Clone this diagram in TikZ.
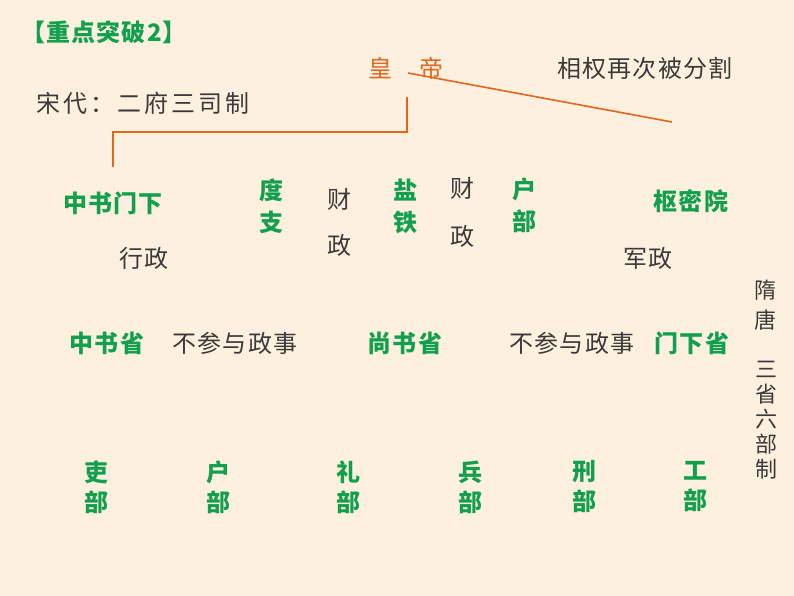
\documentclass[tikz,border=0pt]{standalone}
\usepackage{fontspec}
\setmainfont{Noto Sans CJK SC}[LetterSpace=5]
\newfontfamily\widecjk{Noto Sans CJK SC}[LetterSpace=13]
\usetikzlibrary{positioning}
\definecolor{paper}{HTML}{FDF0DF}
\definecolor{kgreen}{HTML}{12A04E}
\definecolor{korange}{HTML}{E2661C}
\definecolor{kgray}{HTML}{3A3A3A}

\begin{document}
\begin{tikzpicture}[x=1pt, y=-1pt,
  office/.style={text=kgreen, font=\fontsize{24}{32}\selectfont\bfseries, align=center, inner sep=0pt},
  note/.style={text=kgray, font=\fontsize{24}{26}\selectfont, align=center, inner sep=0pt},
  ruler/.style={text=korange, font=\fontsize{24}{26}\selectfont, inner sep=0pt},
  link/.style={draw=korange, line width=1.6pt}
]

% background fixes the page size
\fill[paper] (0,0) rectangle (794,596);

% heading
\node[office] (head) at (104,32) {【重点突破2】};
\node[note, font=\fontsize{24}{26}\selectfont\widecjk] (song) at (143,103) {宋代：二府三司制};
\node[note] (split) at (645,68) {相权再次被分割};

% emperor
\node[ruler] (emperor) at (406,68) {皇\hspace{28pt}帝};

% Song: two offices and three finance bureaux
\node[office] (zsmx) at (113,203) {中书门下};
\node[note] (xz) at (144,258) {行政};
\node[office] (duzhi) at (271,206) {度\\支};
\node[note, font=\fontsize{24}{46}\selectfont] (cz1) at (339,222) {财\\政};
\node[office] (yantie) at (405,206) {盐\\铁};
\node[note, font=\fontsize{24}{48}\selectfont] (cz2) at (462,212) {财\\政};
\node[office] (hubu1) at (524,205) {户\\部};
\node[office] (smy) at (691,201) {枢密院};
\node[note] (jz) at (648,258) {军政};

% connectors
\coordinate (zsmxtop) at (113,167);
\coordinate (emptop) at (407,97);
\coordinate (cutA) at (408,73);
\coordinate (cutB) at (672,122);
\draw[link] (zsmxtop) -- ++(0,-35) -| (emptop);
\draw[link] (cutA) -- (cutB);

% Sui and Tang: three departments
\node[office] (zss) at (107,343) {中书省};
\node[note] (bcy1) at (235,343) {不参与政事};
\node[office] (sss) at (405,343) {尚书省};
\node[note] (bcy2) at (572,343) {不参与政事};
\node[office] (mxs) at (692,343) {门下省};

\node[note, font=\fontsize{22}{30}\selectfont] (suitang) at (765,305) {隋\\唐};
\node[note, font=\fontsize{22}{25}\selectfont] (sslb) at (766,420) {三\\省\\六\\部\\制};

% six ministries
\node[office, font=\fontsize{24}{30}\selectfont\bfseries] (libu) at (96,487) {吏\\部};
\node[office, font=\fontsize{24}{30}\selectfont\bfseries] (hubu) at (218,487) {户\\部};
\node[office, font=\fontsize{24}{30}\selectfont\bfseries] (lbu) at (348,487) {礼\\部};
\node[office, font=\fontsize{24}{30}\selectfont\bfseries] (bbu) at (470,487) {兵\\部};
\node[office, font=\fontsize{24}{30}\selectfont\bfseries] (xbu) at (584,487) {刑\\部};
\node[office, font=\fontsize{24}{30}\selectfont\bfseries] (gbu) at (695,487) {工\\部};

\end{tikzpicture}
\end{document}
